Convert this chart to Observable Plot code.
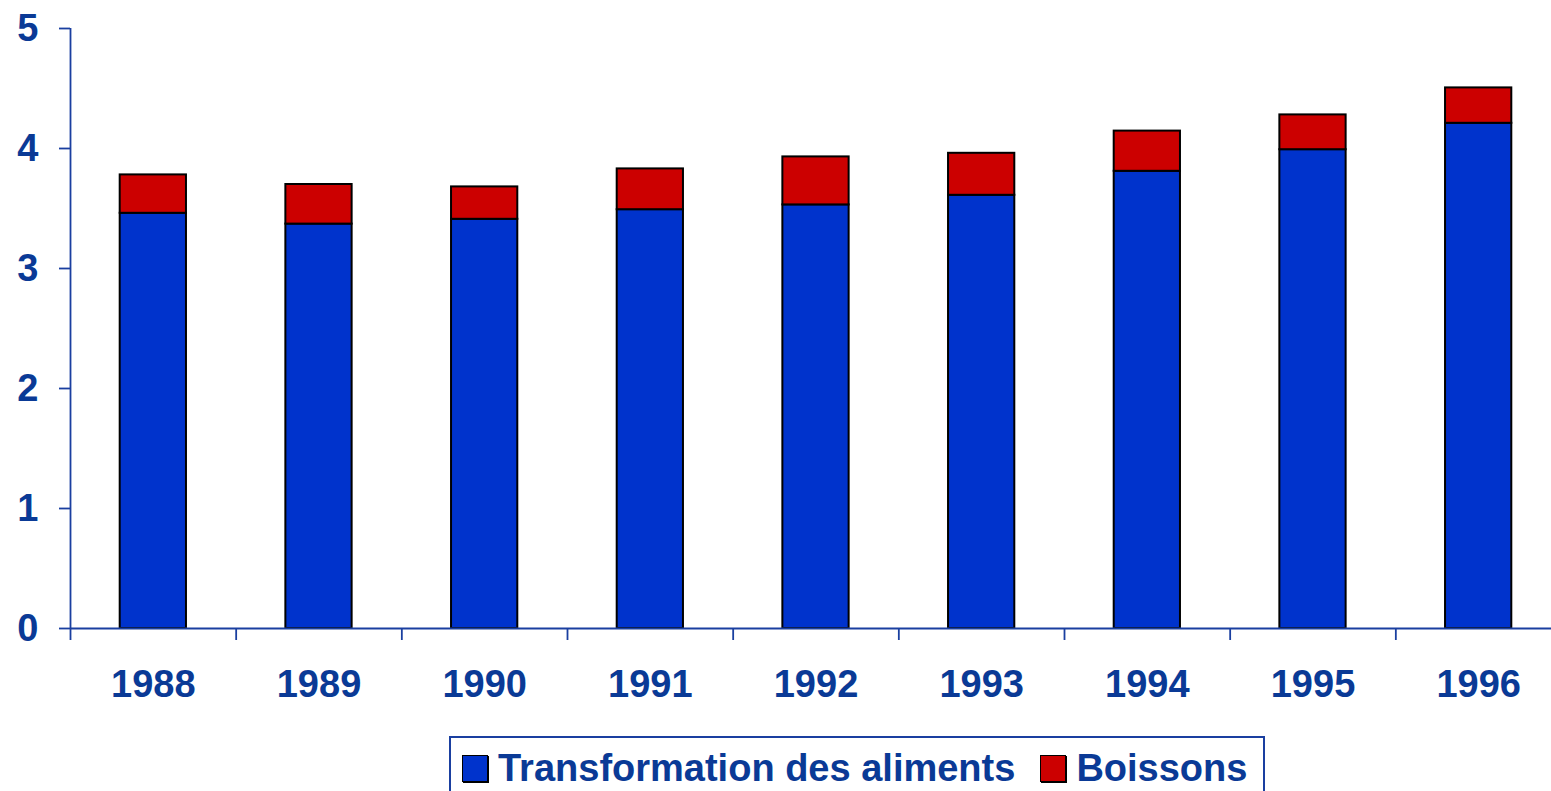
<!DOCTYPE html>
<html>
<head>
<meta charset="utf-8">
<script src="https://cdn.jsdelivr.net/npm/d3@7"></script>
<script src="https://cdn.jsdelivr.net/npm/@observablehq/plot@0.6"></script>
<style>
  html, body { margin: 0; padding: 0; background: #fff; overflow: hidden; width: 1551px; height: 791px; }
  #chart { position: absolute; left: 0; top: 0; width: 1561px; }
  #chart svg { max-width: none !important; }
  #legend {
    position: absolute; left: 449px; top: 736px;
    border: 2px solid #1a3fa0;
    font-family: "Liberation Sans", Arial, sans-serif; font-weight: bold; font-size: 38px;
    color: #0a3a96; line-height: 38px; display: flex; align-items: flex-start;
    padding-top: 11px; padding-left: 11px; box-sizing: border-box; width: 816px; height: 90px;
  }
  .item { display: flex; align-items: center; white-space: nowrap; }
  .sw { width: 24px; height: 25px; border: 1px solid #000; box-shadow: 1px 1px 0 #000; margin-right: 10px; }
</style>
</head>
<body>
<div id="chart"></div>
<div id="legend"></div>
<script>
const years = [1988, 1989, 1990, 1991, 1992, 1993, 1994, 1995, 1996];
const transformation = [3.46, 3.37, 3.41, 3.49, 3.53, 3.61, 3.81, 3.99, 4.21];
const boissons = [0.32, 0.33, 0.27, 0.34, 0.40, 0.35, 0.335, 0.29, 0.295];
const seriesNames = ["Transformation des aliments", "Boissons"];
const seriesColors = ["#0033cc", "#cc0000"];
const yTicks = [0, 1, 2, 3, 4, 5];

const rows = [];
years.forEach((yr, i) => {
  rows.push({year: yr, series: seriesNames[0], value: transformation[i]});
  rows.push({year: yr, series: seriesNames[1], value: boissons[i]});
});

const half = 0.2; // half bar width in category units
const boundaries = years.map(y => y - 0.5);

const axisColor = "#1a3fa0";

const chart = Plot.plot({
  width: 1561,
  height: 736,
  marginLeft: 70,
  marginRight: 0,
  marginTop: 28,
  marginBottom: 108,
  style: {
    fontFamily: "'Liberation Sans', Arial, sans-serif",
    fontSize: "38px",
    fontWeight: "bold",
    color: "#0a3a96",
    background: "#fff",
    overflow: "visible",
    maxWidth: "none"
  },
  x: {type: "linear", domain: [years[0] - 0.5, years[years.length - 1] + 0.5], axis: null, label: null},
  y: {domain: [0, 5], axis: null, label: null},
  color: {domain: seriesNames, range: seriesColors},
  marks: [
    Plot.rectY(rows, Plot.stackY({
      x1: d => d.year - half,
      x2: d => d.year + half,
      y: "value",
      z: "series",
      fill: "series",
      stroke: "#000",
      strokeWidth: 2,
      order: seriesNames
    })),
    Plot.ruleX([years[0] - 0.5], {y1: 0, y2: 5, stroke: axisColor, strokeWidth: 1.8}),
    Plot.ruleY([0], {stroke: axisColor, strokeWidth: 1.8}),
    Plot.axisY({ticks: yTicks, tickSize: 11, tickPadding: 21, stroke: axisColor, strokeWidth: 1.8, tickFormat: d => String(d), label: null}),
    Plot.axisX({ticks: boundaries, tickSize: 12, tickFormat: () => "", stroke: axisColor, strokeWidth: 1.8, label: null}),
    Plot.axisX({ticks: years, tickSize: 0, tickPadding: 42, tickFormat: d => String(d), label: null})
  ]
});
document.getElementById("chart").appendChild(chart);

const legend = document.getElementById("legend");
seriesNames.forEach((name, i) => {
  const item = document.createElement("div");
  item.className = "item";
  if (i > 0) item.style.marginLeft = "25px";
  const sw = document.createElement("div");
  sw.className = "sw";
  sw.style.background = seriesColors[i];
  const label = document.createElement("span");
  label.textContent = name;
  item.appendChild(sw);
  item.appendChild(label);
  legend.appendChild(item);
});
</script>
</body>
</html>
